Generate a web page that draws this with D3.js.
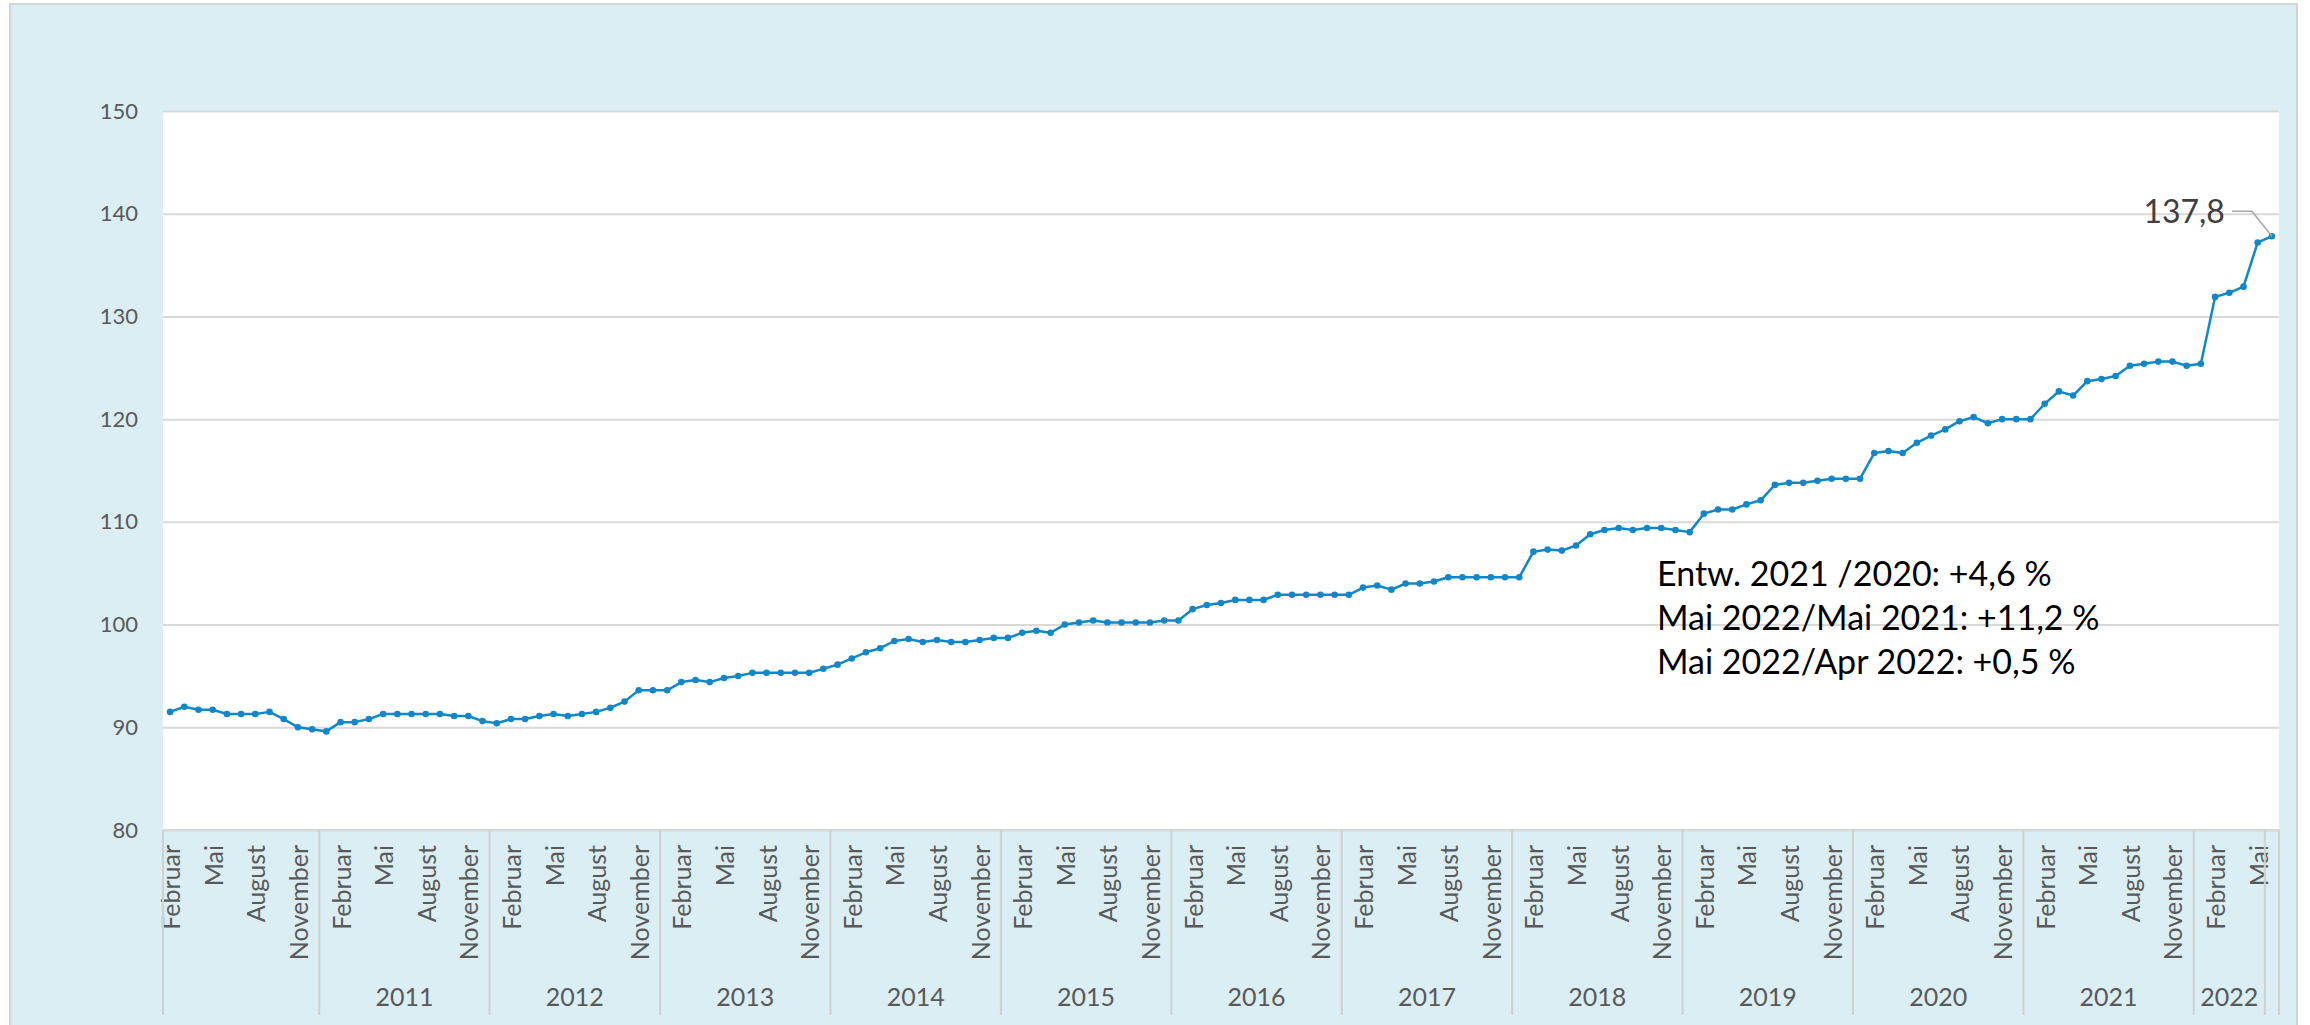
<!DOCTYPE html>
<html>
<head>
<meta charset="utf-8">
<script src="https://cdn.jsdelivr.net/npm/d3@7"></script>
<style>
  html, body { margin: 0; padding: 0; background: #ffffff; }
  svg { display: block; }
</style>
</head>
<body>
<svg id="chart" width="2310" height="1025"></svg>
<script>
// ---------------- DATA ----------------
const monthNames = ["Januar","Februar","März","April","Mai","Juni","Juli","August","September","Oktober","November","Dezember"];
// category labels start with "Februar" (label row offset by one month)
const firstLabelMonth = 1;
const shownEvery = 3;
const yearLabels = ["", "2011", "2012", "2013", "2014", "2015", "2016", "2017", "2018", "2019", "2020", "2021", "2022", ""];
const yearCounts = [11, 12, 12, 12, 12, 12, 12, 12, 12, 12, 12, 12, 5, 1];

const values2010 = [91.5, 92.0, 91.7, 91.7, 91.3, 91.3, 91.3, 91.5, 90.8, 90.0, 89.8, 89.6];
const values2011 = [90.5, 90.5, 90.8, 91.3, 91.3, 91.3, 91.3, 91.3, 91.1, 91.1, 90.6, 90.4];
const values2012 = [90.8, 90.8, 91.1, 91.3, 91.1, 91.3, 91.5, 91.9, 92.5, 93.6, 93.6, 93.6];
const values2013 = [94.4, 94.6, 94.4, 94.8, 95.0, 95.3, 95.3, 95.3, 95.3, 95.3, 95.7, 96.1];
const values2014 = [96.7, 97.3, 97.7, 98.4, 98.6, 98.3, 98.5, 98.3, 98.3, 98.5, 98.7, 98.7];
const values2015 = [99.2, 99.4, 99.2, 100.0, 100.2, 100.4, 100.2, 100.2, 100.2, 100.2, 100.4, 100.4];
const values2016 = [101.5, 101.9, 102.1, 102.4, 102.4, 102.4, 102.9, 102.9, 102.9, 102.9, 102.9, 102.9];
const values2017 = [103.6, 103.8, 103.4, 104.0, 104.0, 104.2, 104.6, 104.6, 104.6, 104.6, 104.6, 104.6];
const values2018 = [107.1, 107.3, 107.2, 107.7, 108.8, 109.2, 109.4, 109.2, 109.4, 109.4, 109.2, 109.0];
const values2019 = [110.8, 111.2, 111.2, 111.7, 112.1, 113.6, 113.8, 113.8, 114.0, 114.2, 114.2, 114.2];
const values2020 = [116.7, 116.9, 116.7, 117.7, 118.4, 119.0, 119.8, 120.2, 119.6, 120.0, 120.0, 120.0];
const values2021 = [121.5, 122.7, 122.3, 123.7, 123.9, 124.2, 125.2, 125.4, 125.6, 125.6, 125.2, 125.4];
const values2022 = [131.9, 132.3, 132.9, 137.2, 137.8];

const yTicks = [80, 90, 100, 110, 120, 130, 140, 150];
const lastLabel = "137,8";
const notes = ["Entw. 2021 /2020: +4,6 %", "Mai 2022/Mai 2021: +11,2 %", "Mai 2022/Apr 2022: +0,5 %"];

// ---------------- BUILD ----------------
const values = [].concat(values2010, values2011, values2012, values2013, values2014, values2015,
  values2016, values2017, values2018, values2019, values2020, values2021, values2022);
const cats = d3.range(values.length);
const catMonth = cats.map(i => monthNames[(i + firstLabelMonth) % 12]);

const plot = { left: 163, right: 2279, top: 111, bottom: 830 };

const svg = d3.select("#chart");
const FONT = "Lato, 'Open Sans', sans-serif";

// chart area background
svg.append("rect").attr("x", 10).attr("y", 4).attr("width", 2287).attr("height", 1040)
  .attr("fill", "#DAEEF3").attr("stroke", "#D4D4D4").attr("stroke-width", 2);

const x = d3.scaleBand().domain(cats).range([plot.left, plot.right]).paddingInner(0).paddingOuter(0);
const y = d3.scaleLinear().domain([80, 150]).range([plot.bottom, plot.top]);
const cx = i => x(i) + x.bandwidth() / 2;

// plot area
svg.append("rect").attr("x", plot.left).attr("y", plot.top)
  .attr("width", plot.right - plot.left).attr("height", plot.bottom - plot.top)
  .attr("fill", "#ffffff");

// gridlines + y labels via axis
const yAxis = d3.axisLeft(y).tickValues(yTicks).tickSize(-(plot.right - plot.left)).tickPadding(25).tickFormat(d3.format("d"));
const gy = svg.append("g").attr("transform", `translate(${plot.left},0)`).call(yAxis);
gy.select(".domain").remove();
gy.selectAll(".tick line").attr("stroke", "#D9D9D9").attr("stroke-width", 2);
gy.selectAll(".tick text").attr("fill", "#595959").attr("font-family", FONT).attr("font-size", 22);

// x axis line
svg.append("line").attr("x1", plot.left).attr("x2", plot.right).attr("y1", plot.bottom).attr("y2", plot.bottom)
  .attr("stroke", "#D9D9D9").attr("stroke-width", 2);

// month labels (every 3rd category)
const xAxis = d3.axisBottom(x).tickValues(cats.filter(i => i % shownEvery === 0 && i < values.length - 1))
  .tickSize(0).tickFormat(i => catMonth[i]);
const gx = svg.append("g").attr("transform", `translate(0,${plot.bottom})`).call(xAxis);
gx.select(".domain").remove();
gx.selectAll(".tick text")
  .attr("fill", "#595959").attr("font-family", FONT).attr("font-size", 25)
  .attr("text-anchor", "end").attr("dominant-baseline", "central")
  .attr("transform", "translate(0,15) rotate(-90)")
  .attr("x", 0).attr("y", 0).attr("dy", null);

// year group separators and labels
let start = 0;
const bounds = [];
yearCounts.forEach((n, k) => { bounds.push({ s: start, e: start + n, label: yearLabels[k] }); start += n; });
const sepX = [plot.left].concat(bounds.map(b => x(b.e - 1) + x.bandwidth()));
svg.append("g").selectAll("line").data(sepX).join("line")
  .attr("x1", d => d).attr("x2", d => d).attr("y1", plot.bottom).attr("y2", 1015)
  .attr("stroke", "#D0D0D0").attr("stroke-width", 2);
svg.append("g").selectAll("text").data(bounds.filter(b => b.label)).join("text")
  .attr("x", b => (x(b.s) + x(b.e - 1) + x.bandwidth()) / 2)
  .attr("y", 1006).attr("text-anchor", "middle")
  .attr("fill", "#595959").attr("font-family", FONT).attr("font-size", 25)
  .text(b => b.label);

// line + markers
const color = "#1187C9";
svg.append("path").datum(values)
  .attr("fill", "none").attr("stroke", color).attr("stroke-width", 2.5).attr("stroke-linejoin", "round")
  .attr("d", d3.line().x((d, i) => cx(i)).y(d => y(d)));
svg.append("g").selectAll("circle").data(values).join("circle")
  .attr("cx", (d, i) => cx(i)).attr("cy", d => y(d)).attr("r", 3.3).attr("fill", color);

// last data label with leader line
const li = values.length - 1;
const lx = cx(li), ly = y(values[li]);
svg.append("polyline")
  .attr("points", `${lx - 40},${ly - 25} ${lx - 20},${ly - 25} ${lx},${ly}`)
  .attr("fill", "none").attr("stroke", "#A6A6A6").attr("stroke-width", 1.5);
svg.append("text").attr("x", lx - 47).attr("y", ly - 13).attr("text-anchor", "end")
  .attr("fill", "#404040").attr("font-family", FONT).attr("font-size", 32)
  .text(lastLabel);

// notes
svg.append("g").selectAll("text").data(notes).join("text")
  .attr("x", 1657).attr("y", (d, i) => 586 + i * 44)
  .attr("fill", "#000000").attr("font-family", FONT).attr("font-size", 34)
  .text(d => d);
</script>
</body>
</html>
